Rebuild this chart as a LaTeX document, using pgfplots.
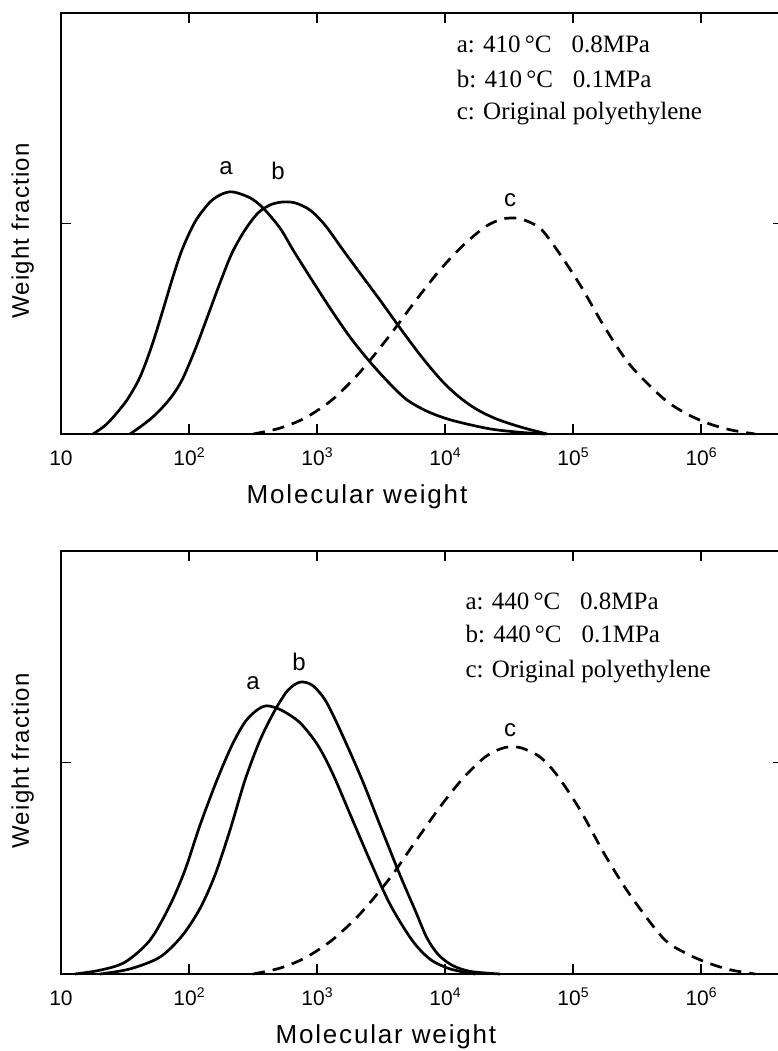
\documentclass[border=0pt]{standalone}
\usepackage{fontspec}
\setmainfont{Liberation Serif}
\newfontfamily\labf[LetterSpace=7]{Liberation Sans}
\newfontfamily\ylabf[LetterSpace=5]{Liberation Sans}
\newfontfamily\tickf{Liberation Sans}
\usepackage{pgfplots}
\pgfplotsset{compat=1.18}

% x values are log10(molecular weight), y is weight fraction (arbitrary units)
\newcommand{\ex}[1]{10\raisebox{8pt}{\fontsize{14}{14}\selectfont #1}}

\pgfplotsset{
  mwd/.style={
    scale only axis,
    width=722pt,
    xmin=1, xmax=6.64,
    ymin=0, ymax=1,
    clip=false,
    axis line style={line width=2.2pt},
    tick style={line width=1.8pt, black},
    major tick length=10pt,
    tick align=inside,
    xtick={1,2,3,4,5,6},
    xticklabels={10,\ex{2},\ex{3},\ex{4},\ex{5},\ex{6}},
    xticklabel style={font=\tickf\fontsize{21}{21}\selectfont, inner sep=0pt,
      text height=15pt, text depth=0pt, anchor=north, yshift=-16pt},
    ytick={0.5}, yticklabels={},
    xlabel={Molecular weight},
    ylabel={Weight fraction},
    xlabel style={font=\labf\fontsize{26}{26}\selectfont},
    ylabel style={font=\ylabf\fontsize{24}{24}\selectfont},
    every axis plot/.append style={line width=2.7pt, smooth, no marks},
  },
}
\tikzset{
  curvelab/.style={font=\tickf\fontsize{24}{24}\selectfont},
  legtext/.style={anchor=base west, inner sep=0pt, font=\fontsize{25}{25}\selectfont},
  cdash/.style={dash pattern=on 12pt off 8pt},
}

\begin{document}
\begin{tikzpicture}

% ---------- upper panel: 410 C ----------
\begin{axis}[mwd, height=421pt, at={(61pt,-434pt)}, anchor=south west,
  xlabel style={at={(axis description cs:0.41,-0.15)}, anchor=center},
  ylabel style={at={(axis description cs:-0.053,0.482)}, anchor=center}]
\addplot[black] coordinates {
  (1.250,0) (1.344,0.020) (1.422,0.045) (1.516,0.081) (1.617,0.135)
  (1.711,0.211) (1.797,0.295) (1.867,0.366) (1.945,0.437) (2.047,0.504)
  (2.164,0.551) (2.258,0.570) (2.344,0.575) (2.477,0.561) (2.578,0.537)
  (2.711,0.489) (2.813,0.437) (2.945,0.373) (3.102,0.299) (3.258,0.230)
  (3.414,0.171) (3.570,0.119) (3.703,0.081) (3.859,0.054) (4.016,0.036)
  (4.195,0.022) (4.375,0.011) (4.586,0.004) (4.781,0)
};
\addplot[black] coordinates {
  (1.539,0) (1.633,0.020) (1.734,0.045) (1.852,0.084) (1.945,0.128)
  (2.047,0.200) (2.141,0.276) (2.242,0.359) (2.336,0.430) (2.438,0.485)
  (2.539,0.525) (2.633,0.544) (2.727,0.551) (2.828,0.549) (2.945,0.532)
  (3.063,0.496) (3.203,0.437) (3.336,0.382) (3.492,0.318) (3.648,0.252)
  (3.805,0.188) (3.961,0.131) (4.094,0.092) (4.234,0.061) (4.391,0.037)
  (4.586,0.017) (4.797,0)
};
\addplot[black, cdash] coordinates {
  (2.500,0) (2.711,0.014) (2.906,0.038) (3.117,0.081) (3.336,0.147)
  (3.570,0.235) (3.766,0.315) (3.961,0.390) (4.141,0.448) (4.313,0.492)
  (4.430,0.509) (4.508,0.513) (4.602,0.510) (4.742,0.489) (4.875,0.437)
  (5.055,0.354) (5.250,0.252) (5.445,0.164) (5.703,0.085) (5.875,0.050)
  (6.047,0.026) (6.227,0.010) (6.422,0)
};
\node[curvelab] at (2.289,0.632) {a};
\node[curvelab] at (2.695,0.625) {b};
\node[curvelab] at (4.508,0.556) {c};
\node[legtext] at (axis description cs:0.548,0.905) {a: 410\,°C\hspace{20pt}0.8MPa};
\node[legtext] at (axis description cs:0.548,0.824) {b: 410\,°C\hspace{20pt}0.1MPa};
\node[legtext] at (axis description cs:0.548,0.746) {c: Original polyethylene};
\end{axis}

% ---------- lower panel: 440 C ----------
\begin{axis}[mwd, height=423pt, at={(61pt,-974pt)}, anchor=south west,
  xlabel style={at={(axis description cs:0.45,-0.149)}, anchor=center},
  ylabel style={at={(axis description cs:-0.053,0.504)}, anchor=center}]
\addplot[black] coordinates {
  (1.109,0) (1.305,0.009) (1.500,0.028) (1.695,0.080) (1.852,0.163)
  (1.969,0.246) (2.086,0.352) (2.219,0.459) (2.336,0.541) (2.438,0.596)
  (2.531,0.624) (2.609,0.634) (2.720,0.624) (2.867,0.594) (3.008,0.540)
  (3.125,0.472) (3.258,0.378) (3.414,0.268) (3.570,0.165) (3.742,0.080)
  (3.883,0.035) (4.039,0.012) (4.234,0)
};
\addplot[black] coordinates {
  (1.305,0) (1.539,0.012) (1.773,0.040) (1.945,0.090) (2.086,0.155)
  (2.203,0.234) (2.320,0.340) (2.438,0.459) (2.555,0.553) (2.672,0.624)
  (2.773,0.671) (2.867,0.690) (2.961,0.683) (3.063,0.648) (3.180,0.577)
  (3.352,0.459) (3.492,0.352) (3.648,0.234) (3.766,0.151) (3.859,0.085)
  (3.950,0.045) (4.060,0.020) (4.200,0.006) (4.430,0)
};
\addplot[black, cdash] coordinates {
  (2.500,0) (2.711,0.014) (2.906,0.038) (3.117,0.080) (3.336,0.142)
  (3.570,0.227) (3.766,0.312) (3.961,0.395) (4.141,0.463) (4.313,0.513)
  (4.430,0.532) (4.508,0.537) (4.602,0.534) (4.742,0.513) (4.875,0.470)
  (5.055,0.388) (5.250,0.281) (5.445,0.187) (5.703,0.085) (5.875,0.050)
  (6.047,0.027) (6.227,0.010) (6.422,0)
};
\node[curvelab] at (2.500,0.688) {a};
\node[curvelab] at (2.859,0.738) {b};
\node[curvelab] at (4.508,0.577) {c};
\node[legtext] at (axis description cs:0.560,0.861) {a: 440\,°C\hspace{20pt}0.8MPa};
\node[legtext] at (axis description cs:0.560,0.783) {b: 440\,°C\hspace{20pt}0.1MPa};
\node[legtext] at (axis description cs:0.560,0.702) {c: Original polyethylene};
\end{axis}

\pgfresetboundingbox
\path[use as bounding box] (0pt,0pt) rectangle (778pt,-1051pt);
\end{tikzpicture}
\end{document}
